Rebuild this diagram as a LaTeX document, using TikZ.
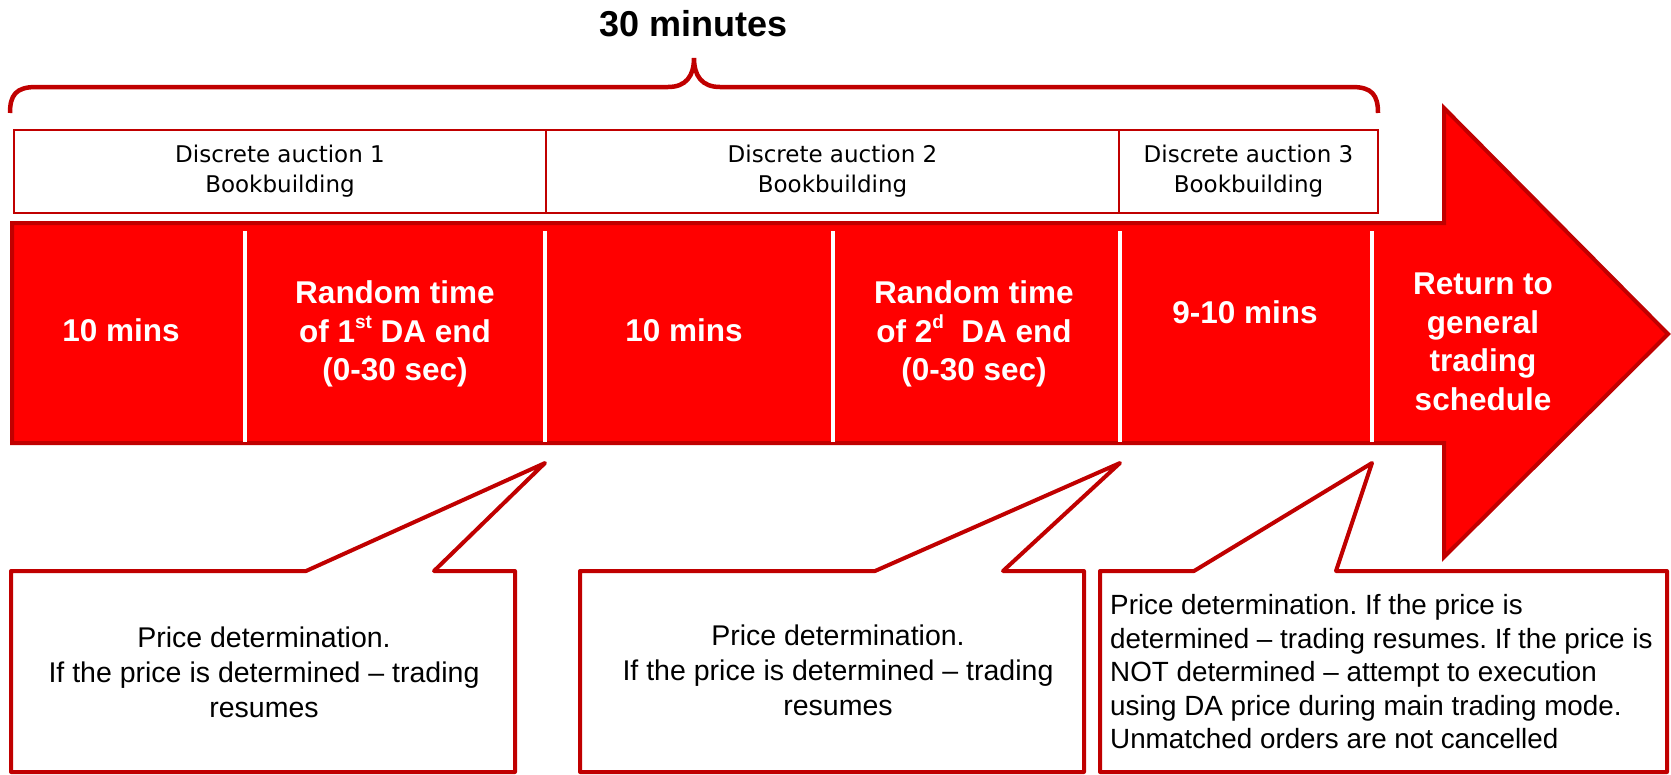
\documentclass[tikz,border=0pt]{standalone}
\usepackage{fontspec}
\setmainfont{Liberation Sans}
\newfontfamily\boxfont{DejaVu Sans}
\usepackage{tikz}
\frenchspacing

\definecolor{darkred}{HTML}{C00000}
\definecolor{arrowred}{HTML}{FF0000}
\newcommand{\sups}[1]{\raisebox{0.42em}{\fontsize{19}{19}\selectfont #1}}

\tikzset{
  topbox/.style={draw=darkred, line width=2.5pt, minimum height=83pt, inner sep=0pt, align=center,
    font=\boxfont\fontsize{23}{30}\selectfont},
  celltext/.style={text=white, align=center, font=\bfseries\fontsize{31.5}{38.5}\selectfont},
  calltext/.style={align=center, inner sep=0pt, font=\fontsize{28.5}{35}\selectfont},
  callout/.style={draw=darkred, fill=white, line width=4pt, line join=round},
  divider/.style={white, line width=3.5pt}
}

\begin{document}
\begin{tikzpicture}[x=1pt, y=-1pt]
\useasboundingbox (0,0) rectangle (1671,774);

%%%%%%%%%%%%%%%%%%%Draw The Title And Brace%%%%%%%%%%%%%%%%%%
\node[font=\bfseries\fontsize{36}{40}\selectfont] (title) at (694,24) {30 minutes};
\draw[darkred, line width=4.5pt] (10,113) .. controls (10,95) and (16,87) .. (36,87) -- (668,87)
  .. controls (686,87) and (694,76) .. (694,58) .. controls (694,76) and (702,87) .. (720,87)
  -- (1352,87) .. controls (1372,87) and (1378,95) .. (1378,113);

%%%%%%%%%%%%%%%%%%%Draw The Bookbuilding Boxes%%%%%%%%%%%%%%%%%%
\node[topbox, minimum width=532pt] (da1) at (280,171.5) {Discrete auction 1\\Bookbuilding};
\node[topbox, minimum width=573pt] (da2) at (832.5,171.5) {Discrete auction 2\\Bookbuilding};
\node[topbox, minimum width=259pt] (da3) at (1248.5,171.5) {Discrete auction 3\\Bookbuilding};

%%%%%%%%%%%%%%%%%%%Draw The Big Red Arrow%%%%%%%%%%%%%%%%%%
\draw[fill=arrowred, draw=darkred, line width=4pt] (12,223) -- (1444,223) -- (1444,108) -- (1668,334)
  -- (1444,557) -- (1444,443) -- (12,443) -- cycle;

%%%%%%%%%%%%%%Draw White Dividers on The Arrow%%%%%%%%%%%%%%
\foreach \x/\n in {245/a, 545/b, 833/c, 1120/d, 1372/e} {
  \draw[divider] (\x,231) -- (\x,442);
  \coordinate (tip\n) at (\x,463);
}

%%%%%%%%%%%%%%%%%%%Texts in The Arrow%%%%%%%%%%%%%%%%%%
\node[celltext] (wait1) at (121,330) {10 mins};
\node[celltext] (rand1) at (395,334) {Random time\\of 1\sups{st} DA end\\(0-30 sec)};
\node[celltext] (wait2) at (684,330) {10 mins};
\node[celltext] (rand2) at (974,334) {Random time\\of 2\sups{d}~ DA end\\(0-30 sec)};
\node[celltext] (wait3) at (1245,312) {9-10 mins};
\node[celltext] (back) at (1483,342) {Return to\\general\\trading\\schedule};

%%%%%%%%%%%%%%%%%%%Draw The Callouts%%%%%%%%%%%%%%%%%%
\draw[callout] (11,571) -- (306,571) -- (tipb) -- (434,571) -- (515,571) -- (515,772) -- (11,772) -- cycle;
\draw[callout] (580,571) -- (875,571) -- (tipd) -- (1003,571) -- (1084,571) -- (1084,772) -- (580,772) -- cycle;
\draw[callout] (1100,571) -- (1194,571) -- (tipe) -- (1336,571) -- (1667,571) -- (1667,772) -- (1100,772) -- cycle;

\node[calltext] (price1) at (264,672) {Price determination.\\If the price is determined -- trading\\resumes};
\node[calltext] (price2) at (838,670) {Price determination.\\If the price is determined -- trading\\resumes};
\node[calltext, align=left, anchor=west, font=\fontsize{27.8}{33.5}\selectfont] (price3) at (1110,672)
  {Price determination. If the price is\\determined -- trading resumes. If the price is\\NOT determined -- attempt to execution\\using DA price during main trading mode.\\Unmatched orders are not cancelled};

\end{tikzpicture}
\end{document}
